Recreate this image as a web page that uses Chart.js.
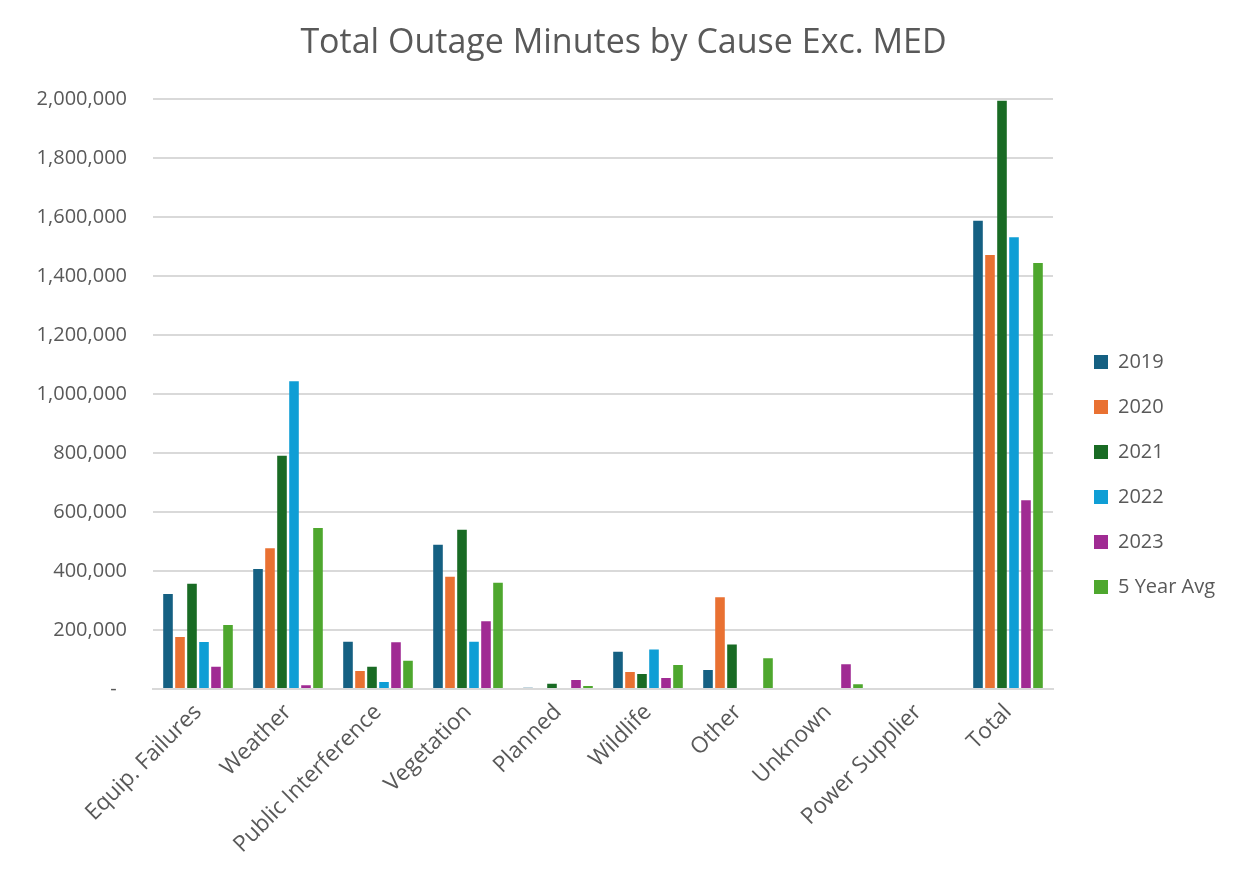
<!DOCTYPE html>
<html>
<head>
<meta charset="utf-8">
<script src="https://cdn.jsdelivr.net/npm/chart.js@4.4.1/dist/chart.umd.min.js"></script>
<style>
  html, body { margin: 0; padding: 0; background: #ffffff; }
  #wrap { width: 1247px; height: 881px; position: relative; }
</style>
</head>
<body>
<div id="wrap"><canvas id="c" width="1247" height="881"></canvas></div>
<script>
// Outage causes along the category axis
const causes = ['Equip. Failures', 'Weather', 'Public Interference', 'Vegetation', 'Planned',
                'Wildlife', 'Other', 'Unknown', 'Power Supplier', 'Total'];

// Outage minutes per cause, one array per year
const y2019 = [322000, 407000, 160000, 489000, 4500, 126000, 64000, 0, 0, 1587000];
const y2020 = [176000, 477000, 61000, 380000, 0, 58000, 311000, 0, 0, 1471000];
const y2021 = [357000, 790000, 75000, 540000, 18000, 51000, 151000, 0, 0, 1993000];
const y2022 = [159000, 1043000, 24000, 160000, 0, 134000, 0, 0, 0, 1531000];
const y2023 = [75600, 12500, 158000, 230000, 30500, 37000, 0, 84000, 0, 640000];
const avg5 = [217000, 546000, 96000, 360000, 10000, 81000, 104000, 16000, 0, 1444000];

const seriesNames = ['2019', '2020', '2021', '2022', '2023', '5 Year Avg'];
const seriesColors = ['#156082', '#E97132', '#196B24', '#0F9ED5', '#A02B93', '#4EA72E'];
const seriesValues = [y2019, y2020, y2021, y2022, y2023, avg5];

const FONT = '"Open Sans", "Liberation Sans", sans-serif';
const TXT = '#595959';

const datasets = seriesNames.map((name, i) => ({
  label: name,
  data: seriesValues[i],
  backgroundColor: seriesColors[i],
  borderWidth: 0,
  categoryPercentage: 0.8,
  barPercentage: 0.8
}));

const chart = new Chart(document.getElementById('c'), {
  type: 'bar',
  data: { labels: causes, datasets },
  options: {
    responsive: false,
    animation: false,
    layout: { padding: 0 },
    plugins: {
      title: {
        display: true,
        text: 'Total Outage Minutes by Cause Exc. MED',
        color: TXT,
        font: { family: FONT, size: 34, weight: 'normal' },
        padding: { top: 23, bottom: 35 }
      },
      legend: {
        position: 'right',
        align: 'center',
        labels: {
          color: TXT,
          font: { family: FONT, size: 20 },
          boxWidth: 14,
          boxHeight: 14,
          padding: 25
        }
      },
      tooltip: { enabled: false }
    },
    scales: {
      x: {
        grid: { display: false, drawTicks: false },
        border: { display: true, color: '#d9d9d9', width: 2 },
        ticks: {
          color: TXT,
          font: { family: FONT, size: 22.5 },
          minRotation: 45,
          maxRotation: 45,
          autoSkip: false,
          padding: 10
        },
        afterFit: s => { s.height = 192; }
      },
      y: {
        min: 0,
        max: 2000000,
        grid: { color: '#d9d9d9', lineWidth: 2, drawTicks: false },
        border: { display: false },
        ticks: {
          stepSize: 200000,
          color: TXT,
          font: { family: FONT, size: 20 },
          padding: 26,
          callback: v => v === 0 ? '-  ' : v.toLocaleString('en-US')
        },
        afterFit: s => { s.width = 153; }
      }
    }
  }
});

// Legend column: fixed width on the right, items nudged into place
const legend = chart.legend;
const baseFit = legend.fit;
legend.fit = function () { baseFit.call(this); this.width = 194; };
const baseDraw = legend.draw;
legend.draw = function (area) {
  const ctx = this.ctx;
  ctx.save();
  ctx.translate(16, 34);
  baseDraw.call(this, area);
  ctx.restore();
};
chart.update();
</script>
</body>
</html>
